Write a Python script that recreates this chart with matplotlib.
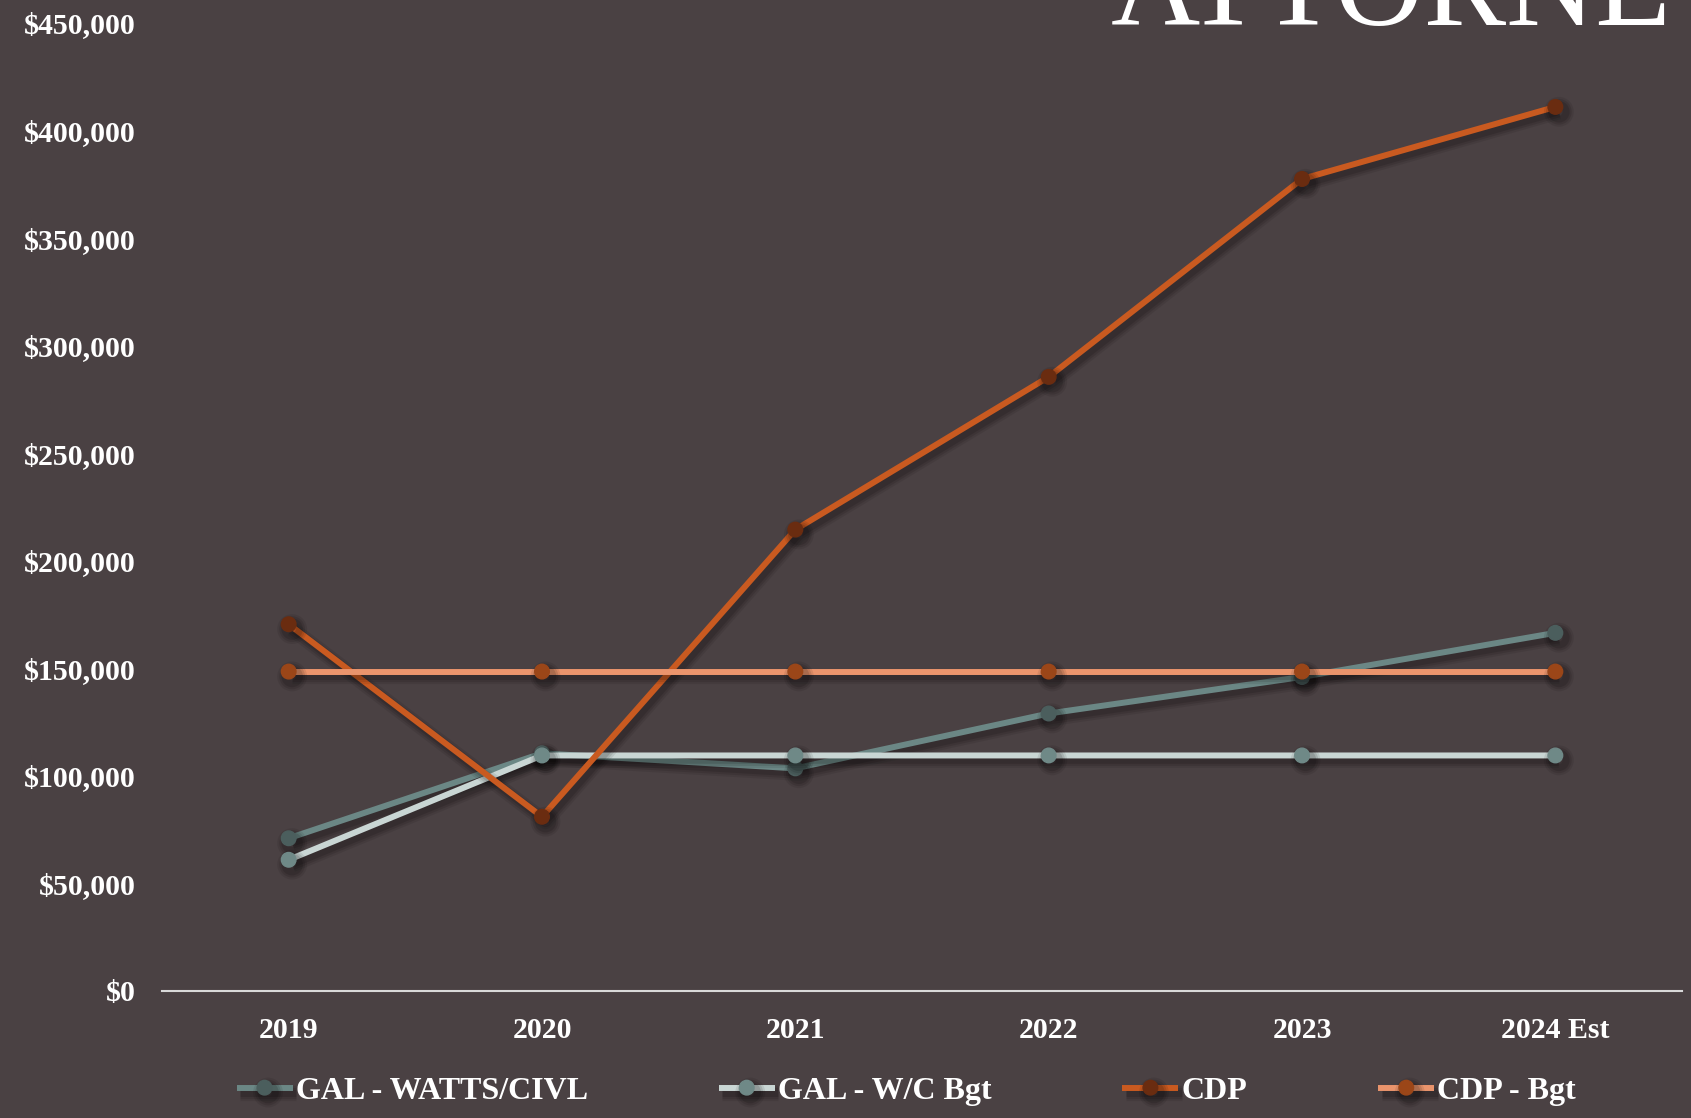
import matplotlib
matplotlib.use('Agg')
import matplotlib.pyplot as plt
import matplotlib.patheffects as pe
from matplotlib.ticker import FuncFormatter

# values
years = ["2019", "2020", "2021", "2022", "2023", "2024 Est"]
gal_watts = [71000, 110500, 103500, 129000, 146000, 166500]
gal_bgt = [61000, 109500, 109500, 109500, 109500, 109500]
cdp = [170500, 81000, 214500, 285500, 377500, 411000]
cdp_bgt = [148500, 148500, 148500, 148500, 148500, 148500]

bg = "#4a4143"
font = "Liberation Serif"

series = [
    ("GAL - WATTS/CIVL", gal_watts, "#6b8785", "#4b5e5d"),
    ("GAL - W/C Bgt", gal_bgt, "#c9d6d4", "#6f8987"),
    ("CDP", cdp, "#c95a20", "#6a2c10"),
    ("CDP - Bgt", cdp_bgt, "#ea946c", "#9b4618"),
]

fig = plt.figure(figsize=(16.91, 11.18), dpi=100, facecolor=bg)
ax = fig.add_axes([0.0958, 0.1136, 0.8989, 0.8658], facecolor=bg)

x = list(range(len(years)))
# soft drop shadow: a few wide, faint copies under the line
shadow = [
    pe.SimpleLineShadow(offset=(2.5, -3.5), shadow_color="black", alpha=0.08, linewidth=11),
    pe.SimpleLineShadow(offset=(2.5, -3.5), shadow_color="black", alpha=0.10, linewidth=8),
    pe.SimpleLineShadow(offset=(2.5, -3.5), shadow_color="black", alpha=0.12, linewidth=5),
    pe.Normal(),
]
for name, vals, lc, mc in series:
    ax.plot(x, vals, color=lc, lw=4.3, marker="o", markersize=10.5,
            markerfacecolor=mc, markeredgecolor=mc, label=name,
            path_effects=shadow, solid_capstyle="butt")

ax.set_xlim(-0.5, 5.5)
ax.set_ylim(0, 450000)
ax.set_yticks(range(0, 450001, 50000))
ax.yaxis.set_major_formatter(FuncFormatter(lambda v, p: "${:,.0f}".format(v)))
ax.set_xticks(x)
ax.set_xticklabels(years)

for s in ["top", "left", "right"]:
    ax.spines[s].set_visible(False)
ax.spines["bottom"].set_color("#d9d9d9")
ax.spines["bottom"].set_linewidth(1.5)

ax.tick_params(axis="both", length=0, colors="white")
ax.tick_params(axis="y", pad=19)
ax.tick_params(axis="x", pad=19)
for lab in ax.get_xticklabels() + ax.get_yticklabels():
    lab.set_fontfamily(font)
    lab.set_fontweight("bold")
    lab.set_fontsize(21.5)

leg = fig.legend(loc="center", bbox_to_anchor=(0.536, 0.024), ncol=4, frameon=False,
                 prop={"family": font, "weight": "bold", "size": 23},
                 handlelength=1.75, handletextpad=0.1, columnspacing=4.1)
for t in leg.get_texts():
    t.set_color("white")

# cut-off slide title
fig.text(0.657, 1 - 25 / 1118, "ATTORNEY", color="white", fontfamily=font,
         fontsize=89, va="baseline", ha="left")

fig.savefig("out.png", dpi=100, facecolor=bg)
